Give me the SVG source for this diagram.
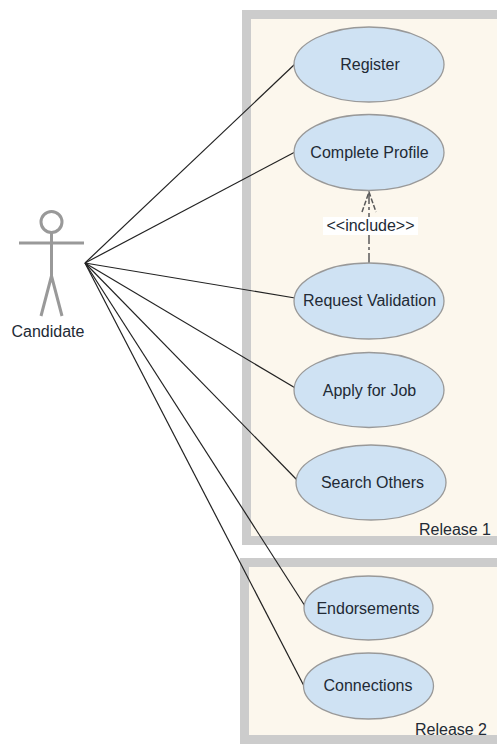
<svg xmlns="http://www.w3.org/2000/svg" width="497" height="744" viewBox="0 0 497 744">
<style>
.box{fill:#fcf7ed;stroke:#cccccc;stroke-width:9}
.uc{fill:#cfe2f3;stroke:#999999;stroke-width:1.3}
.t{font-family:"Liberation Sans",Arial,sans-serif;font-size:16px;fill:#222a35;text-anchor:middle}
.c{stroke:#222222;stroke-width:1.2;fill:none}
.a{stroke:#999999;stroke-width:3;fill:none}
.d{stroke:#595959;stroke-width:1.5;fill:none}
</style>
<rect width="497" height="744" fill="#ffffff"/>
<g id="release1"><rect class="box" x="246.500" y="14.500" width="260" height="526"/><text class="t" x="455" y="535">Release 1</text></g>
<g id="release2"><rect class="box" x="244.500" y="562.500" width="262" height="177"/><text class="t" x="451" y="735">Release 2</text></g>
<g id="connectors">
<path class="c" d="M85 263L295 64"/>
<path class="c" d="M85 263L295 152"/>
<path class="c" d="M85 263L295 298"/>
<path class="c" d="M85 263L297 389"/>
<path class="c" d="M85 263L298 481"/>
<path class="c" d="M85 263L305 606"/>
<path class="c" d="M85 263L304 686"/>
<path class="d" stroke-dasharray="11 3 3 3" d="M369 264V192"/>
<path class="d" stroke-dasharray="5 2" d="M362 212L369 192L376 212"/>
<rect x="323" y="217" width="95" height="18" fill="#ffffff"/>
<text class="t" x="370.500" y="231">&lt;&lt;include&gt;&gt;</text>
</g>
<g id="candidate">
<circle class="a" cx="51.500" cy="222" r="10.500"/>
<path class="a" d="M19 243H84M51.500 232.500V276M51.500 276L41 316M51.500 276L62 316"/>
<text class="t" x="48" y="337">Candidate</text>
</g>
<g id="register"><ellipse class="uc" cx="369" cy="64.500" rx="75" ry="37.500"/><text class="t" x="370" y="70">Register</text></g>
<g id="complete-profile"><ellipse class="uc" cx="369" cy="152.500" rx="75" ry="38"/><text class="t" x="369.500" y="158">Complete Profile</text></g>
<g id="request-validation"><ellipse class="uc" cx="369" cy="301" rx="75" ry="38"/><text class="t" x="369.500" y="306">Request Validation</text></g>
<g id="apply-for-job"><ellipse class="uc" cx="369" cy="390" rx="75" ry="37.500"/><text class="t" x="369.500" y="396">Apply for Job</text></g>
<g id="search-others"><ellipse class="uc" cx="371" cy="482.500" rx="75" ry="37.500"/><text class="t" x="372.500" y="488">Search Others</text></g>
<g id="endorsements"><ellipse class="uc" cx="368.500" cy="608" rx="64.500" ry="32"/><text class="t" x="368" y="614">Endorsements</text></g>
<g id="connections"><ellipse class="uc" cx="368.500" cy="686" rx="65" ry="33"/><text class="t" x="368" y="691">Connections</text></g>
</svg>
